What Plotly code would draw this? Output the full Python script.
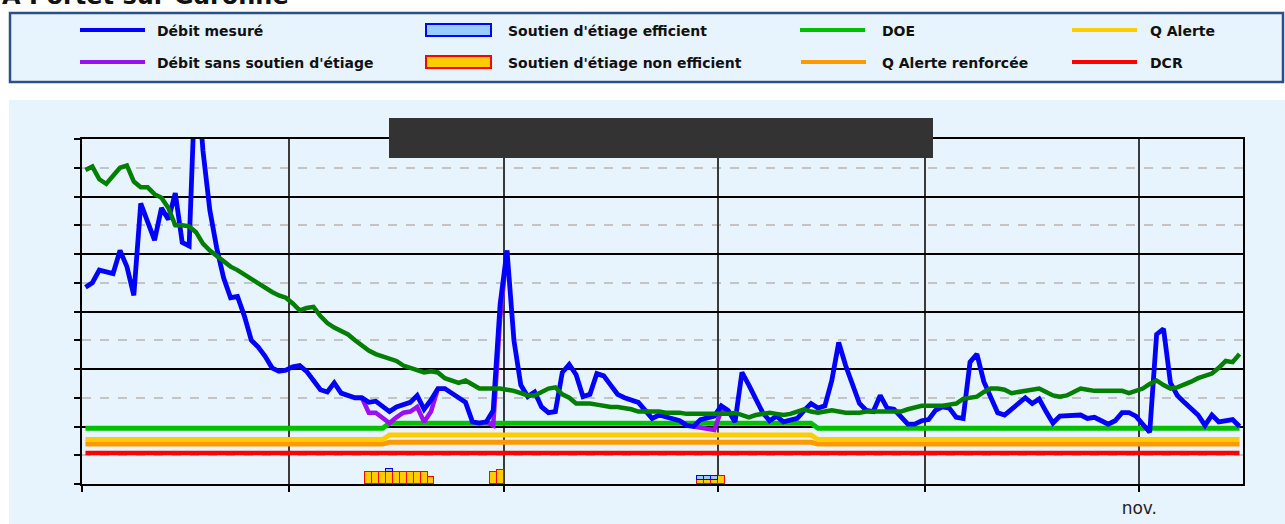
import plotly.graph_objects as go
import pandas as pd

# ---------------- data ----------------
START_DAY = "2022-06-01 12:00"
N_DAYS = 168
x_range = ["2022-06-01", "2022-11-16"]

month_ticks = ["2022-06-01", "2022-07-01", "2022-08-01", "2022-09-01", "2022-10-01", "2022-11-01"]
month_labels = ["", "", "", "", "", "nov."]

debit_mesure = [
    171, 175, 186, 184, 183, 203, 189, 164, 244, 228,
    212, 240, 230, 253, 210, 207, 369, 290, 238, 205,
    179, 162, 163, 146, 125, 119, 111, 101, 98, 99,
    102, 103, 98, 90, 82, 80, 88, 79, 77, 75,
    75, 71, 72, 68, 63, 67, 69, 71, 77, 65,
    73, 83, 83, 79, 75, 71, 54, 53, 54, 64,
    156, 203, 125, 86, 76, 80, 67, 62, 63, 97,
    104, 95, 76, 78, 96, 94, 86, 78, 75, 73,
    71, 64, 57, 60, 58, 57, 55, 51, 50, 56,
    57, 59, 68, 64, 54, 97, 86, 73, 62, 55,
    59, 54, 56, 57, 64, 70, 66, 68, 90, 123,
    103, 86, 70, 64, 63, 77, 66, 65, 58, 52,
    52, 55, 56, 64, 67, 66, 58, 57, 106, 113,
    89, 76, 62, 60, 65, 70, 75, 70, 74, 63,
    53, 59, 59, 59, 60, 57, 58, 55, 52, 55,
    62, 62, 59, 52, 45, 130, 135, 88, 77, 71,
    66, 60, 51, 60, 54, 55, 56, 50,
]

courbe_verte = [
    273, 276, 265, 261, 268, 275, 277, 263, 258, 258,
    252, 249, 240, 225, 225, 224, 219, 209, 203, 198,
    193, 189, 186, 182, 178, 174, 170, 167, 164, 162,
    157, 151, 153, 154, 146, 140, 136, 133, 130, 125,
    120, 116, 113, 111, 110, 107, 103, 101, 98, 97,
    98, 97, 92, 90, 88, 90, 87, 83, 83, 83,
    83, 82, 81, 79, 77, 77, 80, 83, 84, 78,
    75, 70, 70, 70, 69, 68, 67, 67, 66, 65,
    63, 63, 63, 63, 62, 62, 62, 61, 61, 61,
    61, 61, 61, 61, 62, 60, 58, 60, 61, 62,
    61, 60, 61, 63, 65, 63, 62, 63, 64, 63,
    62, 62, 62, 63, 63, 63, 63, 63, 63, 65,
    67, 68, 68, 68, 68, 69, 70, 74, 75, 76,
    80, 83, 83, 82, 79, 80, 81, 82, 83, 80,
    77, 76, 77, 80, 83, 82, 81, 81, 81, 81,
    81, 79, 81, 83, 87, 90, 86, 83, 84, 86,
    89, 92, 94, 96, 101, 107, 106, 113,
]

# débit sans soutien d'étiage : segments (first day, values)
sans_soutien_segments = [
    ("2022-07-11 12:00", [75, 62, 62, 57, 53, 58, 62, 63, 67, 54, 63, 83]),
    ("2022-07-29 12:00", [54, 51, 144, 203]),
    ("2022-08-28 12:00", [50, 49, 48, 47, 64, 64]),
]

soutien_dates = [
    "2022-07-12 12:00", "2022-07-13 12:00", "2022-07-14 12:00", "2022-07-15 12:00",
    "2022-07-16 12:00", "2022-07-17 12:00", "2022-07-18 12:00", "2022-07-19 12:00",
    "2022-07-20 12:00", "2022-07-21 12:00", "2022-07-30 12:00", "2022-07-31 12:00",
    "2022-08-29 12:00", "2022-08-30 12:00", "2022-08-31 12:00", "2022-09-01 12:00",
]
soutien_non_efficient = [10.7, 10.7, 10.7, 10.7, 10.7, 10.7, 10.7, 10.7, 10.7, 5.8,
                         10.7, 12.2, 3.5, 3.5, 3.5, 7.2]
soutien_efficient = [None, None, None, 2.6, None, None, None, None, None, None,
                     None, None, 3.7, 3.7, 3.7, None]

seuil_dates = ["2022-06-01 12:00", "2022-07-14 12:00", "2022-07-15 12:00",
               "2022-09-14 12:00", "2022-09-15 12:00", "2022-11-15 12:00"]
doe = [48.4, 48.4, 52.8, 52.8, 48.4, 48.4]
q_alerte = [38.7, 38.7, 42.6, 42.6, 38.7, 38.7]
q_alerte_renforcee = [34.8, 34.8, 36.3, 36.3, 34.8, 34.8]
dcr = [27.0, 27.0, 27.0, 27.0, 27.0, 27.0]

# ---------------- layout helpers (pixel -> paper) ----------------
W, H = 1285, 524
PL, PR, PT, PB = 82, 1243, 139, 484


def px(x):
    return (x - PL) / (PR - PL)


def py(y):
    return (PB - y) / (PB - PT)


dates = pd.date_range(START_DAY, periods=N_DAYS, freq="D")

sans_x, sans_y = [], []
for start, vals in sans_soutien_segments:
    seg_dates = pd.date_range(start, periods=len(vals), freq="D")
    sans_x += list(seg_dates) + [None]
    sans_y += list(vals) + [None]

C_BLUE = "#0000ff"
C_PURPLE = "#9a10f0"
C_DOE = "#00c000"
C_DARKGREEN = "#007f00"
C_YELLOW = "#ffcc00"
C_ORANGE = "#ff9900"
C_RED = "#ff0000"
C_PANEL = "#e8f4fd"

fig = go.Figure()

fig.add_trace(go.Bar(x=soutien_dates, y=soutien_non_efficient, width=86400000,
                     name="Soutien d'étiage non efficient", showlegend=False,
                     marker=dict(color=C_YELLOW, line=dict(color=C_RED, width=1.5))))
fig.add_trace(go.Bar(x=soutien_dates, y=soutien_efficient, width=86400000,
                     name="Soutien d'étiage efficient", showlegend=False,
                     marker=dict(color="#99ccff", line=dict(color=C_BLUE, width=1.5))))

for name, vals, col, w in [("DCR", dcr, C_RED, 4.5),
                           ("Q Alerte renforcée", q_alerte_renforcee, C_ORANGE, 5),
                           ("Q Alerte", q_alerte, C_YELLOW, 5),
                           ("DOE", doe, C_DOE, 5)]:
    fig.add_trace(go.Scatter(x=seuil_dates, y=vals, mode="lines", name=name,
                             showlegend=False, line=dict(color=col, width=w)))

fig.add_trace(go.Scatter(x=sans_x, y=sans_y, mode="lines", name="Débit sans soutien d'étiage",
                         showlegend=False, connectgaps=False,
                         line=dict(color=C_PURPLE, width=4.5)))
fig.add_trace(go.Scatter(x=dates, y=debit_mesure, mode="lines", name="Débit mesuré",
                         showlegend=False, line=dict(color=C_BLUE, width=4.8)))
fig.add_trace(go.Scatter(x=dates, y=courbe_verte, mode="lines", name="Courbe de référence",
                         showlegend=False, line=dict(color=C_DARKGREEN, width=4.5)))

shapes = []
# light blue chart panel
shapes.append(dict(type="rect", xref="paper", yref="paper", layer="below",
                   x0=px(9), x1=px(1290), y0=py(530), y1=py(100),
                   fillcolor=C_PANEL, line=dict(width=0)))
# legend box
shapes.append(dict(type="rect", xref="paper", yref="paper", layer="below",
                   x0=px(10), x1=px(1283), y0=py(82), y1=py(13),
                   fillcolor=C_PANEL, line=dict(color="#2b4f86", width=2.5)))
# redacted title block
shapes.append(dict(type="rect", xref="paper", yref="paper", layer="above",
                   x0=px(389), x1=px(933), y0=py(158), y1=py(118),
                   fillcolor="#333333", line=dict(width=0)))

legend_items = [
    ("line", C_BLUE, "Débit mesuré", 80, 155, 30),
    ("line", C_PURPLE, "Débit sans soutien d'étiage", 80, 155, 62),
    ("rect", ("#99ccff", C_BLUE), "Soutien d'étiage efficient", 426, 506, 30),
    ("rect", (C_YELLOW, C_RED), "Soutien d'étiage non efficient", 426, 506, 62),
    ("line", C_DOE, "DOE", 800, 880, 30),
    ("line", C_ORANGE, "Q Alerte renforcée", 801, 880, 62),
    ("line", C_YELLOW, "Q Alerte", 1072, 1148, 30),
    ("line", C_RED, "DCR", 1072, 1148, 62),
]
annotations = []
for kind, col, label, sx, tx, ly in legend_items:
    if kind == "line":
        shapes.append(dict(type="line", xref="paper", yref="paper",
                           x0=px(sx), x1=px(sx + 65), y0=py(ly), y1=py(ly),
                           line=dict(color=col, width=4)))
    else:
        shapes.append(dict(type="rect", xref="paper", yref="paper",
                           x0=px(sx), x1=px(sx + 65), y0=py(ly + 6), y1=py(ly - 6),
                           fillcolor=col[0], line=dict(color=col[1], width=2)))
    annotations.append(dict(xref="paper", yref="paper", x=px(tx), y=py(ly + 1),
                            xanchor="left", yanchor="middle", showarrow=False,
                            text="<b>" + label + "</b>",
                            font=dict(family="DejaVu Sans", size=14, color="#111111")))

annotations.append(dict(xref="paper", yref="paper", x=px(0), y=py(12),
                        xanchor="left", yanchor="bottom", showarrow=False,
                        text="<b>À Portet sur Garonne</b>",
                        font=dict(family="DejaVu Sans", size=24, color="#111111")))

fig.update_layout(
    width=W, height=H, autosize=False,
    margin=dict(l=PL, r=W - PR, t=PT, b=H - PB, pad=0, autoexpand=False),
    paper_bgcolor="white", plot_bgcolor="white",
    barmode="stack", bargap=0,
    showlegend=False,
    shapes=shapes, annotations=annotations,
    xaxis=dict(type="date", range=x_range, tickvals=month_ticks, ticktext=month_labels,
               automargin=False,
               ticks="outside", ticklen=6, tickwidth=2, tickcolor="black",
               showgrid=True, gridcolor="#3a3a3a", gridwidth=2,
               showline=True, linecolor="black", linewidth=2, mirror=True,
               zeroline=False, ticklabelstandoff=2,
               tickfont=dict(family="DejaVu Sans", size=17, color="#222222")),
    yaxis=dict(range=[0, 300], tick0=0, dtick=50, showticklabels=False,
               automargin=False,
               ticks="outside", ticklen=6, tickwidth=2, tickcolor="black",
               showgrid=True, gridcolor="black", gridwidth=2,
               showline=True, linecolor="black", linewidth=2, mirror=True,
               zeroline=False,
               minor=dict(dtick=25, showgrid=True, gridcolor="#c4c4c4", griddash="dash",
                          gridwidth=1.5, ticks="outside", ticklen=6, tickwidth=2,
                          tickcolor="black")),
)

fig.write_html("out.html", config={"displayModeBar": False},
               post_script="document.body.style.margin='0';document.body.style.overflow='hidden';")
